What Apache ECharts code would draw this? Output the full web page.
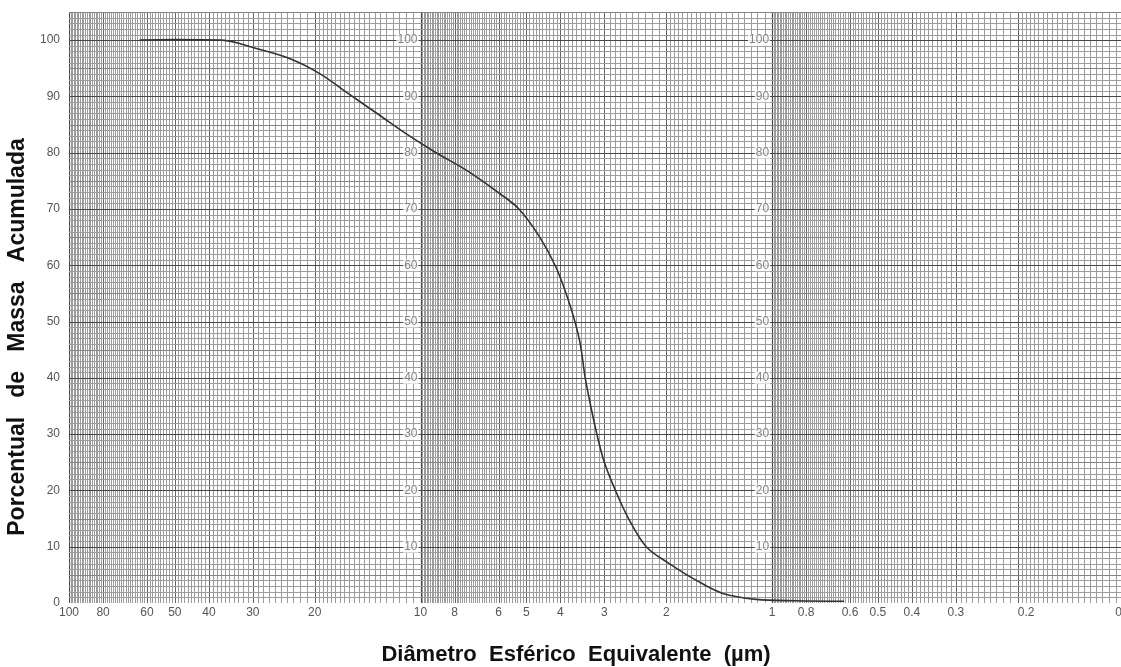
<!DOCTYPE html>
<html>
<head>
<meta charset="utf-8">
<script src="https://cdn.jsdelivr.net/npm/echarts@6/dist/echarts.min.js"></script>
<style>
  html, body { margin: 0; padding: 0; background: #fff; }
  #chart { width: 1121px; height: 667px; }
</style>
</head>
<body>
<div id="chart"></div>
<script>
// Cumulative mass curve: equivalent spherical diameter (µm) vs. cumulative mass (%)
const diameters = [63, 50, 36.8, 29.3, 23.5, 19.4, 16.3, 13.1, 11.0, 9.03, 7.41, 5.97, 5.25,
                   4.59, 4.12, 3.77, 3.53, 3.40, 3.28, 3.15, 3.00, 2.79, 2.56, 2.28,
                   1.96, 1.65, 1.38, 1.11, 0.857, 0.624];
const percentages = [100, 100.1, 100, 98.5, 96.7, 94.1, 90.8, 86.7, 83.4, 80.0, 76.9, 72.8, 70.0,
                     65.1, 59.7, 53.2, 46.7, 40.0, 35.0, 30.0, 25.0, 20.0, 15.0, 10.0,
                     7.0, 4.1, 1.7, 0.65, 0.4, 0.3];

// Tick labels
const xTickValues = [100, 80, 60, 50, 40, 30, 20, 10, 8, 6, 5, 4, 3, 2, 1, 0.8, 0.6, 0.5, 0.4, 0.3, 0.2];
const xEdgeLabel = 0.1;
const yTickValues = [0, 10, 20, 30, 40, 50, 60, 70, 80, 90, 100];
const innerLabelValues = [10, 20, 30, 40, 50, 60, 70, 80, 90, 100];
const innerLabelDecades = [10, 1];

// Axis extents (the printed sheet runs just short of 0.1 µm on the right)
const X_MAX = 100;
const X_MIN = 0.1017;
const Y_TOP = 105;

// Log paper ruling: each decade [b, 10b]
const decadeBases = [10, 1, 0.1];
const majorMultiples = [100, 80, 60, 50, 40, 30, 20];

const vLines = [];
decadeBases.forEach(function (b) {
  for (let k = 100; k >= 20; k--) {
    const w = k === 100 ? 3 : (majorMultiples.indexOf(k) >= 0 ? 2 : 0);
    vLines.push([+(k * b / 10).toPrecision(6), w]);
  }
  for (let k = 39; k >= 21; k--) {
    vLines.push([+(k * b / 20).toPrecision(6), 0]);
  }
});

const hLines = [];
for (let v = 0; v <= Y_TOP; v++) {
  hLines.push([1, v, v % 10 === 0 ? 3 : (v % 5 === 0 ? 1 : 0)]);
}

const innerLabels = [];
innerLabelDecades.forEach(function (d) {
  innerLabelValues.forEach(function (v) { innerLabels.push([d, v]); });
});

const lineColors = ['#9c9c9c', '#858585', '#636363', '#474747'];
const lineWidths = [1, 1, 1, 1.2];

const fmt = function (v) { return String(+(+v).toPrecision(6)); };

const chart = echarts.init(document.getElementById('chart'), null, { renderer: 'canvas' });
chart.setOption({
  backgroundColor: '#ffffff',
  animation: false,
  textStyle: { fontFamily: 'Liberation Sans, Arial, sans-serif' },
  grid: { left: 69, top: 12, right: 0, bottom: 64, containLabel: false },
  xAxis: {
    type: 'log',
    logBase: 10,
    min: X_MIN,
    max: X_MAX,
    inverse: true,
    axisLine: { show: false },
    axisTick: { show: false },
    splitLine: { show: false },
    minorTick: { show: false },
    minorSplitLine: { show: false },
    axisLabel: {
      customValues: xTickValues,
      formatter: fmt,
      color: '#555',
      fontSize: 12,
      margin: 4,
      alignMaxLabel: 'left'
    }
  },
  yAxis: {
    type: 'value',
    min: 0,
    max: Y_TOP,
    axisLine: { show: false },
    axisTick: { show: false },
    splitLine: { show: false },
    axisLabel: {
      customValues: yTickValues,
      color: '#555',
      fontSize: 12,
      margin: 9
    }
  },
  series: [
    {
      name: 'vertical ruling',
      type: 'custom',
      silent: true,
      clip: true,
      data: vLines,
      encode: { x: 0 },
      renderItem: function (params, api) {
        const x = api.value(0), w = api.value(1);
        const p0 = api.coord([x, 0]);
        const p1 = api.coord([x, Y_TOP]);
        const px = Math.round(p0[0]) + 0.5;
        return {
          type: 'line',
          shape: { x1: px, y1: p0[1], x2: px, y2: p1[1] },
          style: { stroke: lineColors[w], lineWidth: lineWidths[w] }
        };
      },
      z: 1
    },
    {
      name: 'horizontal ruling',
      type: 'custom',
      silent: true,
      clip: true,
      data: hLines,
      encode: { x: 0, y: 1 },
      renderItem: function (params, api) {
        const v = api.value(1), w = api.value(2);
        const p0 = api.coord([X_MAX, v]);
        const p1 = api.coord([X_MIN, v]);
        const py = Math.round(p0[1]) + 0.5;
        return {
          type: 'line',
          shape: { x1: p0[0], y1: py, x2: p1[0], y2: py },
          style: { stroke: lineColors[w], lineWidth: lineWidths[w] }
        };
      },
      z: 1
    },
    {
      name: 'inner scale',
      type: 'scatter',
      silent: true,
      symbolSize: 0,
      data: innerLabels,
      label: {
        show: true,
        position: 'left',
        distance: 2,
        formatter: function (p) { return p.value[1]; },
        color: '#666',
        fontSize: 12,
        backgroundColor: '#ffffff',
        padding: [0, 1]
      },
      z: 3
    },
    {
      name: 'Massa acumulada',
      type: 'line',
      data: diameters.map(function (d, i) { return [d, percentages[i]]; }),
      showSymbol: false,
      smooth: 0.35,
      lineStyle: { color: '#333333', width: 1.6 },
      z: 4
    }
  ]
});

// Axis titles, plus the 0.1 µm label that sits at the sheet's cut edge
const edge = chart.convertToPixel({ gridIndex: 0 }, [xEdgeLabel, 0]);
chart.setOption({
  graphic: [
    {
      type: 'text',
      x: 18, y: 337,
      rotation: Math.PI / 2,
      style: {
        text: 'Porcentual   de   Massa   Acumulada',
        font: 'bold 23px "Liberation Sans", Arial, sans-serif',
        fill: '#111',
        align: 'center',
        verticalAlign: 'middle'
      }
    },
    {
      type: 'text',
      x: 576, y: 655,
      style: {
        text: 'Diâmetro  Esférico  Equivalente  (µm)',
        font: 'bold 22px "Liberation Sans", Arial, sans-serif',
        fill: '#111',
        align: 'center',
        verticalAlign: 'middle'
      }
    },
    {
      type: 'text',
      x: edge[0], y: edge[1] + 4,
      style: {
        text: fmt(xEdgeLabel),
        font: '12px "Liberation Sans", Arial, sans-serif',
        fill: '#555',
        align: 'center',
        verticalAlign: 'top'
      }
    }
  ]
});
</script>
</body>
</html>
